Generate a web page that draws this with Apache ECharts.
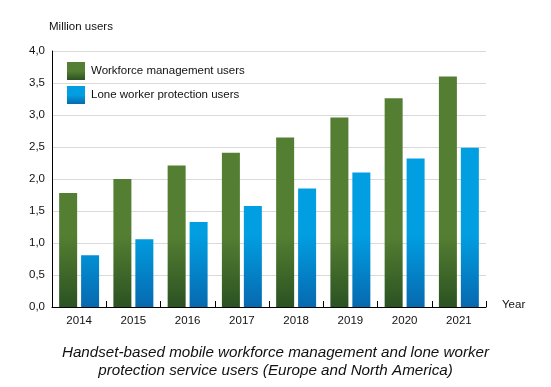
<!DOCTYPE html>
<html><head><meta charset="utf-8">
<script src="https://cdn.jsdelivr.net/npm/echarts@6/dist/echarts.min.js"></script>
<style>html,body{margin:0;padding:0;background:#fff}#c{width:551px;height:387px}</style>
</head><body><div id="c"></div>
<script>
var years = ['2014','2015','2016','2017','2018','2019','2020','2021'];
var workforce = [1.78, 2.0, 2.21, 2.41, 2.65, 2.96, 3.26, 3.6];
var loneWorker = [0.81, 1.06, 1.33, 1.58, 1.85, 2.1, 2.32, 2.49];
var yTicks = [0, 0.5, 1, 1.5, 2, 2.5, 3, 3.5, 4];

var font = 'Liberation Sans, Arial, sans-serif';
function grad(top, bottom) {
  return {type:'linear', x:0, y:235, x2:0, y2:307, global:true,
    colorStops:[{offset:0,color:top},{offset:1,color:bottom}]};
}
function lgrad(top, bottom) {
  return {type:'linear', x:0, y:0, x2:0, y2:1,
    colorStops:[{offset:0,color:top},{offset:0.5,color:top},{offset:1,color:bottom}]};
}
var gTop='#547f32', gBot='#2b5222', bTop='#019ee1', bBot='#0769b0';
var chart = echarts.init(document.getElementById('c'));
chart.setOption({
  animation:false,
  title:[
    {text:'Million users', left:44, top:16, padding:5, textStyle:{fontFamily:font, fontSize:11.5, fontWeight:'normal', color:'#111'}}
  ],
  graphic:[
    {type:'text', left:'center', top:344,
     style:{text:'Handset-based mobile workforce management and lone worker\nprotection service users (Europe and North America)',
       textAlign:'center', fontFamily:font, fontSize:15.2, fontStyle:'italic', fill:'#111', lineHeight:18}}
  ],
  legend:{
    orient:'vertical', left:67, top:62, itemWidth:18, itemHeight:18, itemGap:6, padding:0,
    icon:'rect',
    textStyle:{fontFamily:font, fontSize:11.5, color:'#111', padding:[0,0,0,1]},
    data:[
      {name:'Workforce management users', itemStyle:{color:lgrad(gTop,gBot)}},
      {name:'Lone worker protection users', itemStyle:{color:lgrad(bTop,bBot)}}
    ]
  },
  grid:{left:52, right:65, top:51, bottom:80, containLabel:false},
  xAxis:{
    type:'category', data:years,
    name:'Year', nameLocation:'end', nameGap:16,
    nameTextStyle:{fontFamily:font, fontSize:11.5, color:'#111', verticalAlign:'bottom', lineHeight:4},
    axisLine:{lineStyle:{color:'#000', width:1}},
    axisTick:{show:true, inside:true, length:6, lineStyle:{color:'#000'}},
    axisLabel:{fontFamily:font, fontSize:11.5, color:'#111', margin:8}
  },
  yAxis:{
    type:'value', min:0, max:4, interval:0.5,
    axisLine:{show:true, lineStyle:{color:'#000', width:1}},
    axisTick:{show:false},
    splitLine:{lineStyle:{color:'#d9d9d9', width:1}},
    axisLabel:{fontFamily:font, fontSize:11.5, color:'#111', margin:7,
      formatter:function(v){return v.toFixed(1).replace('.',',');}}
  },
  series:[
    {name:'Workforce management users', type:'bar', data:workforce, barWidth:18, barGap:'22%',
     itemStyle:{color:grad(gTop,gBot)}},
    {name:'Lone worker protection users', type:'bar', data:loneWorker, barWidth:18, barGap:'22%',
     itemStyle:{color:grad(bTop,bBot)}}
  ]
});
</script></body></html>
